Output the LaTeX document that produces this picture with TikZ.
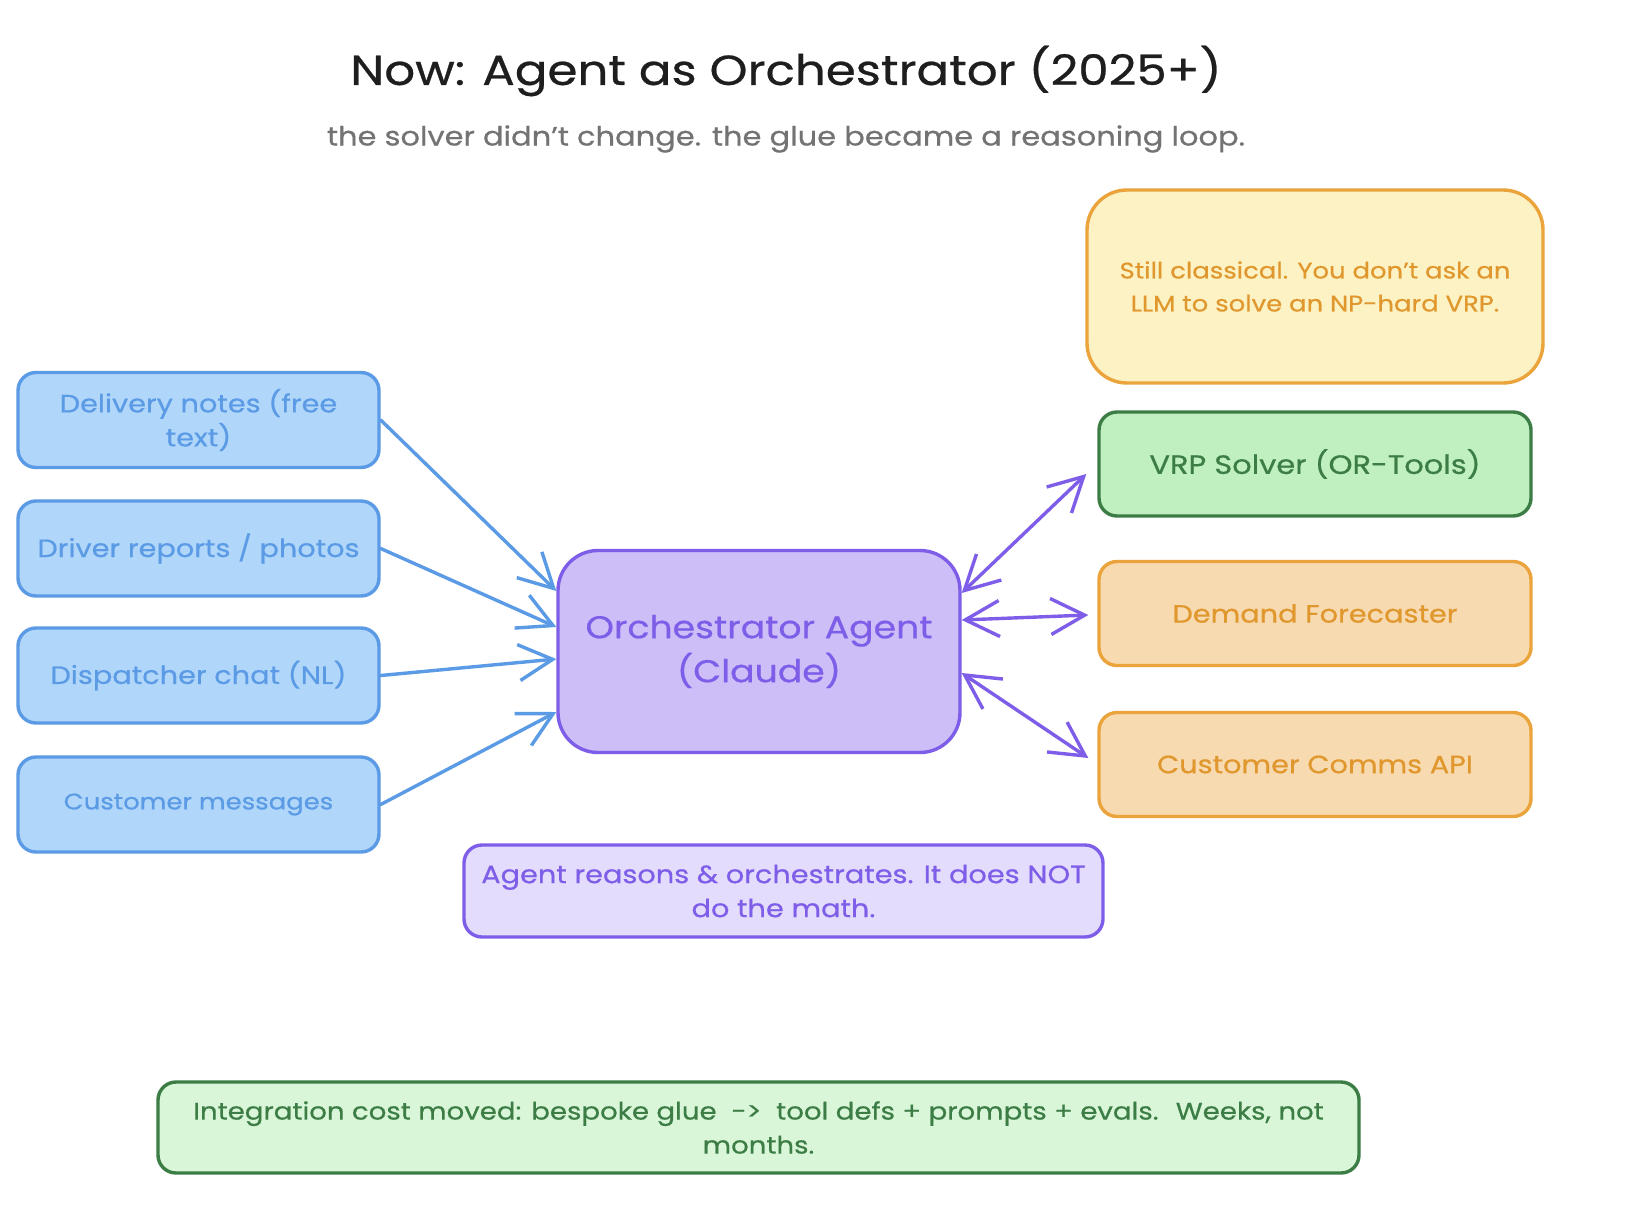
\documentclass[tikz,border=0pt]{standalone}
\usepackage{fontspec}
\setmainfont{Poppins}[FakeStretch=1.15,FakeBold=0.6]
\usetikzlibrary{arrows.meta}
\definecolor{blueS}{HTML}{5B9BE6}
\definecolor{blueF}{HTML}{B0D6FA}
\definecolor{purS}{HTML}{7E5EE8}
\definecolor{purF}{HTML}{CDBEF8}
\definecolor{purL}{HTML}{E3DCFC}
\definecolor{grnS}{HTML}{3C7D46}
\definecolor{grnF}{HTML}{C0F0C0}
\definecolor{grnL}{HTML}{DAF6D8}
\definecolor{orS}{HTML}{EBA43C}
\definecolor{orT}{HTML}{E0982E}
\definecolor{orF}{HTML}{F8DAB0}
\definecolor{yelF}{HTML}{FDF2C3}
\definecolor{titleC}{HTML}{1E1E1E}
\definecolor{subC}{HTML}{737373}
\tikzset{
  box/.style={draw, line width=3.4pt, rounded corners=18pt, align=center, inner sep=0pt, font=\fontsize{25}{34}\selectfont},
  bluebox/.style={box, draw=blueS, fill=blueF, text=blueS, minimum width=361pt, minimum height=95pt},
  rightbox/.style={box, minimum width=432pt, minimum height=104pt},
  arr/.style={draw=blueS, line width=3.4pt, line cap=round, line join=round, -{Straight Barb[length=34pt,width=36pt]}},
  darr/.style={draw=purS, line width=3.4pt, line cap=round, line join=round, {Straight Barb[length=34pt,width=36pt]}-{Straight Barb[length=34pt,width=36pt]}}
}
\begin{document}
\begin{tikzpicture}[x=1pt,y=-1pt]
\useasboundingbox[fill=white] (0,0) rectangle (1632,1204);
% title
\node[text=titleC, font=\fontsize{42}{50}\selectfont] (title) at (786,71) {Now: Agent as Orchestrator (2025+)};
\node[text=subC, font=\fontsize{26.5}{34}\selectfont] (sub) at (786,139) {the solver didn't change. the glue became a reasoning loop.};
% left inputs
\node[bluebox] (d1) at (198.5,420) {Delivery notes (free\\text)};
\node[bluebox] (d2) at (198.5,548.5) {Driver reports / photos};
\node[bluebox] (d3) at (198.5,675.5) {Dispatcher chat (NL)};
\node[bluebox, font=\fontsize{22.5}{34}\selectfont] (d4) at (198.5,804.5) {Customer messages};
% center
\node[box, draw=purS, fill=purF, text=purS, rounded corners=40pt, minimum width=402pt, minimum height=202pt, font=\fontsize{31.5}{44}\selectfont] (agent) at (759,651.5) {Orchestrator Agent\\(Claude)};
% right
\node[box, draw=orS, fill=yelF, text=orT, rounded corners=40pt, minimum width=456pt, minimum height=193pt, font=\fontsize{22.5}{33}\selectfont] (note) at (1315,286.5) {Still classical. You don't ask an\\LLM to solve an NP-hard VRP.};
\node[rightbox, draw=grnS, fill=grnF, text=grnS, font=\fontsize{26.5}{34}\selectfont] (vrp) at (1315,464) {VRP Solver (OR-Tools)};
\node[rightbox, draw=orS, fill=orF, text=orT, font=\fontsize{25}{34}\selectfont] (dem) at (1315,613.5) {Demand Forecaster};
\node[rightbox, draw=orS, fill=orF, text=orT] (com) at (1315,764.5) {Customer Comms API};
% notes
\node[box, draw=purS, fill=purL, text=purS, minimum width=639pt, minimum height=92pt] (reason) at (783.5,891) {Agent reasons \& orchestrates. It does NOT\\do the math.};
\node[box, draw=grnS, fill=grnL, text=grnS, font=\fontsize{24}{34}\selectfont, minimum width=1201pt, minimum height=91pt] (cost) at (758.5,1127.5) {Integration cost moved: bespoke glue \ -> \ tool defs + prompts + evals. \ Weeks, not\\months.};
% arrows in
\draw[arr] (d1.east) -- ([yshift=60.5pt]agent.west);
\draw[arr] (d2.east) -- ([yshift=24.5pt]agent.west);
\draw[arr] (d3.east) -- ([yshift=-7.5pt]agent.west);
\draw[arr] (d4.east) -- ([yshift=-60.5pt]agent.west);
% arrows out
\draw[darr] ([yshift=58.5pt]agent.east) -- ([xshift=-11pt,yshift=-10pt]vrp.west);
\draw[darr] ([yshift=31.5pt]agent.east) -- ([xshift=-9pt,yshift=-1.5pt]dem.west);
\draw[darr] ([yshift=-21.5pt]agent.east) -- ([xshift=-9pt,yshift=6.5pt]com.west);
\end{tikzpicture}
\end{document}
